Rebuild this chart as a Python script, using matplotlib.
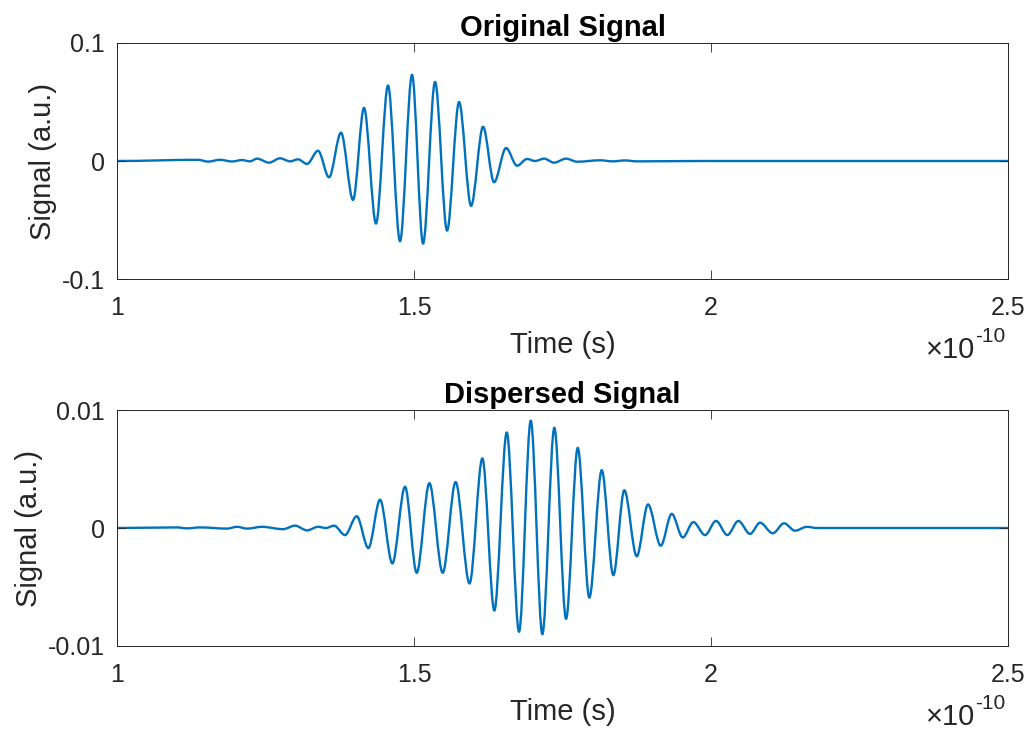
import numpy as np
import matplotlib
matplotlib.use("Agg")
import matplotlib.pyplot as plt
from matplotlib.path import Path
from matplotlib.patches import PathPatch

# -----------------------------
# DATA (time in units of 1e-10 s, extrema)
# -----------------------------
orig_time = [1.0, 1.1364, 1.1532, 1.1734, 1.1936, 1.2104, 1.2239, 1.2357, 1.2559, 1.2744,
             1.2912, 1.3047, 1.3199, 1.3384, 1.3569, 1.3771, 1.3973, 1.4158, 1.4360, 1.4562,
             1.4764, 1.4966, 1.5152, 1.5354, 1.5556, 1.5758, 1.5960, 1.6162, 1.6347, 1.6549,
             1.6734, 1.6902, 1.7037, 1.7189, 1.7357, 1.7559, 1.7744, 1.8131, 1.8350, 1.8552,
             1.8754, 1.9815, 2.5]
orig_signal = [0, 0.001, -0.0005, 0.001, -0.0004, 0.0008, -0.0003, 0.002, -0.0014, 0.0023,
               -0.0003, 0.0014, -0.0025, 0.0087, -0.0138, 0.024, -0.033, 0.045, -0.053, 0.064,
               -0.068, 0.073, -0.070, 0.067, -0.059, 0.050, -0.038, 0.029, -0.018, 0.011,
               -0.004, 0.0017, 0.0, 0.002, -0.0014, 0.002, -0.0006, 0.0006, -0.0003, 0.0005,
               -0.0003, 0, 0]

disp_time = [1.0, 1.1010, 1.1178, 1.1397, 1.1852, 1.2020, 1.2189, 1.2441, 1.2795, 1.2997,
             1.3199, 1.3384, 1.3519, 1.3653, 1.3838, 1.4035, 1.4231, 1.4428, 1.4635, 1.4848,
             1.5045, 1.5258, 1.5483, 1.5700, 1.5934, 1.6150, 1.6352, 1.6561, 1.6768, 1.6965,
             1.7160, 1.7362, 1.7559, 1.7756, 1.7951, 1.8160, 1.8355, 1.8540, 1.8749, 1.8939,
             1.9153, 1.9338, 1.9524, 1.9702, 1.9899, 2.0084, 2.0274, 2.0460, 2.0657, 2.0825,
             2.1039, 2.1229, 2.1414, 2.1611, 2.1785, 2.5]
disp_signal = [0, 0.00005, -0.00003, 0.00005, -0.00005, 0.0001, -0.00005, 0.0001, -0.0001, 0.0002,
               -0.0002, 0.0001, 0.0, 0.0002, -0.0006, 0.001, -0.0017, 0.0024, -0.003, 0.0035,
               -0.0038, 0.0038, -0.0038, 0.0039, -0.0047, 0.0059, -0.0070, 0.0081, -0.0088, 0.0091,
               -0.0090, 0.0085, -0.0077, 0.0068, -0.0059, 0.0049, -0.0040, 0.0032, -0.0024, 0.0020,
               -0.0015, 0.0012, -0.0008, 0.0005, -0.0006, 0.0006, -0.0006, 0.0006, -0.0005, 0.00045,
               -0.00045, 0.0004, -0.00023, 0.0001, 0, 0]

x_ticks = [1, 1.5, 2, 2.5]
x_tick_labels = ["1", "1.5", "2", "2.5"]
orig_yticks = [-0.1, 0, 0.1]
orig_ytick_labels = ["-0.1", "0", "0.1"]
disp_yticks = [-0.01, 0, 0.01]
disp_ytick_labels = ["-0.01", "0", "0.01"]

LINE_COLOR = "#0072BD"
AX_COLOR = "#262626"

plt.rcParams["font.family"] = ["Liberation Sans", "DejaVu Sans"]


def wave_path(t, v):
    """Smooth path through the extrema (flat tangent at each extremum)"""
    verts = [(t[0], v[0])]
    codes = [Path.MOVETO]
    for i in range(len(t) - 1):
        dt = t[i + 1] - t[i]
        verts += [(t[i] + dt / 3, v[i]), (t[i + 1] - dt / 3, v[i + 1]), (t[i + 1], v[i + 1])]
        codes += [Path.CURVE4] * 3
    return Path(verts, codes)


def draw_panel(ax, t, v, title, yticks, ylabels, ylim):
    ax.add_patch(PathPatch(wave_path(t, v), fill=False, edgecolor=LINE_COLOR,
                           linewidth=1.7, capstyle="round", joinstyle="round"))
    ax.set_xlim(1, 2.5)
    ax.set_ylim(*ylim)
    ax.set_xticks(x_ticks)
    ax.set_xticklabels(x_tick_labels)
    ax.set_yticks(yticks)
    ax.set_yticklabels(ylabels)
    ax.tick_params(direction="in", length=6.5, width=0.6, colors=AX_COLOR, labelsize=18,
                   top=True, right=True)
    ax.tick_params(axis="x", pad=12)
    ax.tick_params(axis="y", pad=9)
    for s in ax.spines.values():
        s.set_color(AX_COLOR)
        s.set_linewidth(0.7)
    ax.set_title(title, fontsize=21, fontweight="bold", color="black", pad=5)
    ax.set_xlabel("Time (s)", fontsize=21, color=AX_COLOR, labelpad=8)
    ax.set_ylabel("Signal (a.u.)", fontsize=21, color=AX_COLOR, labelpad=3)
    ax.text(0.963, -0.335, "\u00d710", transform=ax.transAxes, ha="right", va="baseline",
            fontsize=21, color=AX_COLOR)
    ax.text(0.963, -0.265, "-10", transform=ax.transAxes, ha="left", va="baseline",
            fontsize=15, color=AX_COLOR)


fig = plt.figure(figsize=(10.32, 7.31), dpi=100)
ax1 = fig.add_axes([0.1134, 0.6183, 0.8634, 0.3229])
ax2 = fig.add_axes([0.1134, 0.1163, 0.8634, 0.3228])

draw_panel(ax1, orig_time, orig_signal, "Original Signal", orig_yticks, orig_ytick_labels, (-0.1, 0.1))
draw_panel(ax2, disp_time, disp_signal, "Dispersed Signal", disp_yticks, disp_ytick_labels, (-0.01, 0.01))

fig.savefig("out.png", dpi=100)
